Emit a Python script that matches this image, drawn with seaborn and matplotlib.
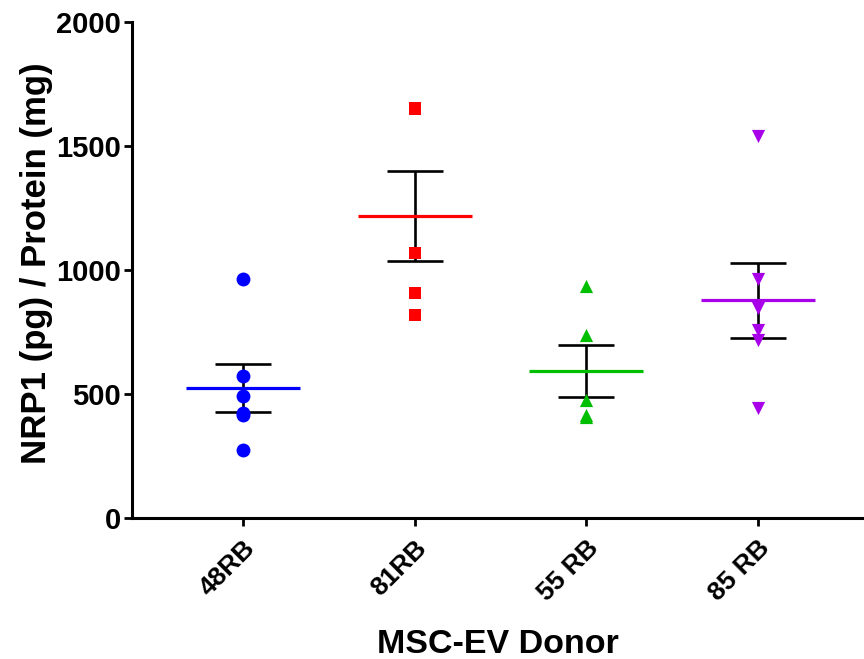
import numpy as np
import pandas as pd
import matplotlib
matplotlib.use("Agg")
import matplotlib.pyplot as plt
import seaborn as sns

donors = ["48RB", "81RB", "55 RB", "85 RB"]
vals_48 = [964, 572, 492, 417, 425, 274]
vals_81 = [1649, 1654, 1068, 906, 817]
vals_55 = [935, 738, 476, 406, 415]
vals_85 = [1540, 964, 845, 758, 718, 442]
colors = ["#0000FF", "#FF0000", "#00BF00", "#A800E8"]
markers = ["o", "s", "^", "v"]
yticks = [0, 500, 1000, 1500, 2000]

sns.set_theme(style="ticks")
plt.rcParams["font.family"] = ["Liberation Sans", "DejaVu Sans"]
plt.rcParams["font.weight"] = "bold"
plt.rcParams["text.color"] = "black"
plt.rcParams["axes.labelcolor"] = "black"

df = pd.DataFrame({
    "donor": sum([[d] * len(v) for d, v in zip(donors, [vals_48, vals_81, vals_55, vals_85])], []),
    "value": vals_48 + vals_81 + vals_55 + vals_85,
})

fig = plt.figure(figsize=(8.64, 6.59), dpi=100)
ax = fig.add_axes([132 / 864, (659 - 518) / 659, (864 - 132) / 864, (518 - 22) / 659])

stats = df.groupby("donor", sort=False)["value"].agg(["mean", "sem"]).reindex(donors)
pos = np.arange(len(donors))
ax.errorbar(pos, stats["mean"], yerr=stats["sem"], fmt="none", ecolor="black",
            elinewidth=1.9, capsize=20.5, capthick=1.9, zorder=2)
for i, d in enumerate(donors):
    ax.hlines(stats.loc[d, "mean"], i - 0.333, i + 0.333, color=colors[i], lw=2.3, zorder=3)

sizes = [10, 9, 9.5, 9.5]
for i, d in enumerate(donors):
    sns.stripplot(data=df[df["donor"] == d], x="donor", y="value", order=donors,
                  jitter=False, marker=markers[i], color=colors[i], size=sizes[i],
                  linewidth=0, ax=ax, zorder=4)

ax.set_xlim(-0.648, 3.62)
ax.set_ylim(0, 2000)
ax.set_yticks(yticks)
ax.set_yticklabels([str(t) for t in yticks], fontsize=21, fontweight="bold")
ax.set_xticks(pos)
ax.set_xticklabels(donors, fontsize=19, fontweight="bold", rotation=45,
                   ha="right", rotation_mode="anchor")
ax.set_ylabel("NRP1 (pg) / Protein (mg)", fontsize=25, fontweight="bold", labelpad=2)
ax.yaxis.label.set_y(0.514)
ax.set_xlabel("MSC-EV Donor", fontsize=24.5, fontweight="bold", labelpad=17)

sns.despine(ax=ax)
for s in ["left", "bottom"]:
    ax.spines[s].set_linewidth(2.2)
    ax.spines[s].set_color("black")
ax.tick_params(axis="both", width=2.0, length=6, color="black", labelcolor="black")
ax.tick_params(axis="y", pad=2)
ax.tick_params(axis="x", pad=7)

fig.savefig("out.png", dpi=100)
